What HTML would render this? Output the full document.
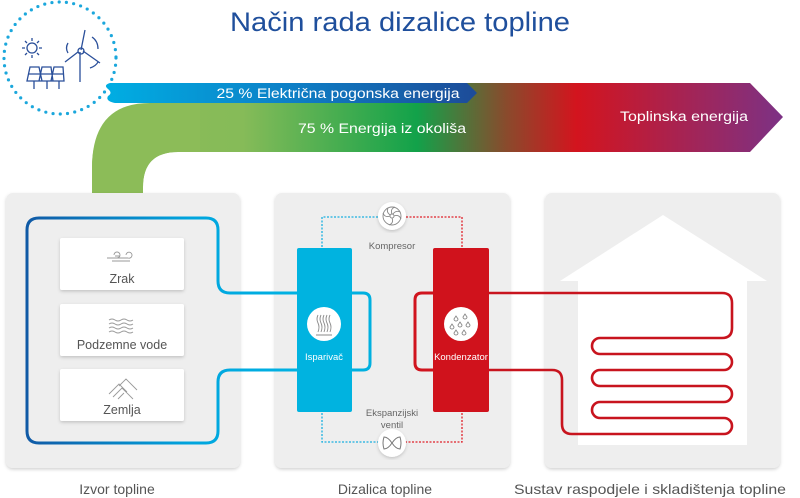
<!DOCTYPE html>
<html><head><meta charset="utf-8"><style>
html,body{margin:0;padding:0;background:#fff;width:800px;height:498px;overflow:hidden}
svg{display:block;font-family:"Liberation Sans",sans-serif}
</style></head><body>
<svg width="800" height="498" viewBox="0 0 800 498" xmlns="http://www.w3.org/2000/svg">
<defs>
<linearGradient id="big" x1="90" y1="0" x2="785" y2="0" gradientUnits="userSpaceOnUse">
<stop offset="0" stop-color="#8cbc58"/>
<stop offset="0.22" stop-color="#86bb58"/>
<stop offset="0.47" stop-color="#12a24a"/>
<stop offset="0.6" stop-color="#8a4a2c"/>
<stop offset="0.7" stop-color="#d3141e"/>
<stop offset="1" stop-color="#7b3286"/>
</linearGradient>
<linearGradient id="blu" x1="105" y1="0" x2="477" y2="0" gradientUnits="userSpaceOnUse">
<stop offset="0" stop-color="#00aee3"/>
<stop offset="0.5" stop-color="#0d7fc6"/>
<stop offset="1" stop-color="#1d4b98"/>
</linearGradient>
<linearGradient id="loop" x1="27" y1="0" x2="300" y2="0" gradientUnits="userSpaceOnUse">
<stop offset="0" stop-color="#105aa6"/>
<stop offset="0.6" stop-color="#00a5de"/>
<stop offset="1" stop-color="#00b2e3"/>
</linearGradient>
<filter id="sh" x="-10%" y="-10%" width="120%" height="120%"><feDropShadow dx="0" dy="1.5" stdDeviation="1.5" flood-color="#000" flood-opacity="0.18"/></filter>
</defs>

<text x="400" y="31" text-anchor="middle" font-size="26.5" fill="#1f4f9c" textLength="340" lengthAdjust="spacingAndGlyphs">Način rada dizalice topline</text>

<!-- dotted circle -->
<circle cx="60" cy="58" r="56" fill="none" stroke="#1ba7dc" stroke-width="3.2" stroke-linecap="round" stroke-dasharray="0 7.3"/>
<!-- sun -->
<g stroke="#2a4f9a" stroke-width="1.3" fill="none">
<circle cx="32" cy="48" r="5"/>
<path d="M32 38v3M32 55v3M22 48h3M39 48h3M25 41l2 2M37 53l2 2M25 55l2-2M37 43l2-2"/>
<path d="M30 67h9l3 14h-15zM42 67h9l2 14h-14zM54 67h9l1 14h-13z"/>
<path d="M29 74h34M34 81v8M47 81v8M59 81v8"/>
<path d="M80 82V52M81 50l4-20M78 52l-13 10M83 51l17 12"/>
<circle cx="81" cy="51" r="3"/>
<path d="M68 43q-3 5 0 10M92 37q6 4 6 12M90 68q6-2 8-6"/>
</g>

<!-- big gradient arrow -->
<path d="M143 195V187Q143 152 178 152H750L783 117L750 83H160Q150 83 150 103Q92 103 92 168V195Z" fill="url(#big)"/>
<path d="M92 195V168Q92 103 160 103H200V152H178Q143 152 143 187V195Z" fill="#8cbc58"/>
<!-- blue band -->
<path d="M110 83H467L477 93L467 103H115Q105 101 108 96Q113 93 108 89Q103 85 110 83Z" fill="url(#blu)"/>
<text x="338" y="98" text-anchor="middle" font-size="13.5" fill="#fff" textLength="243" lengthAdjust="spacingAndGlyphs">25 % Električna pogonska energija</text>
<text x="382" y="133" text-anchor="middle" font-size="13.5" fill="#fff" textLength="168" lengthAdjust="spacingAndGlyphs">75 % Energija iz okoliša</text>
<text x="684" y="121" text-anchor="middle" font-size="13.5" fill="#fff" textLength="128" lengthAdjust="spacingAndGlyphs">Toplinska energija</text>

<!-- panels -->
<rect x="6" y="193" width="234" height="275" rx="7" fill="#eeeeee" filter="url(#sh)"/>
<rect x="275" y="193" width="235" height="275" rx="7" fill="#eeeeee" filter="url(#sh)"/>
<rect x="545" y="193" width="235" height="275" rx="7" fill="#eeeeee" filter="url(#sh)"/>

<!-- left loop -->
<path d="M300 293H230Q218 293 218 281V230Q218 218 206 218H39Q27 218 27 230V431Q27 443 39 443H206Q218 443 218 431V382Q218 370 230 370H300" fill="none" stroke="url(#loop)" stroke-width="3"/>
<!-- cards -->
<g filter="url(#sh)" fill="#fff">
<rect x="60" y="238" width="124" height="52" rx="2"/>
<rect x="60" y="304" width="124" height="52" rx="2"/>
<rect x="60" y="369" width="124" height="52" rx="2"/>
</g>
<g stroke="#999" stroke-width="0.9" fill="none">
<path d="M107 258h10a3 3 0 1 0-3-3M112 261h18M116 258h12a3 3 0 1 0-2-3M115 256h5"/>
<path d="M109 320q3-2 6 0t6 0t6 0t6 0M109 324q3-2 6 0t6 0t6 0t6 0M109 328q3-2 6 0t6 0t6 0t6 0M109 332q3-2 6 0t6 0t6 0t6 0"/>
<path d="M109 394l10-10 8 8M113 397l9-9 11 11M119 386l7-7 11 11M118 399l6-6"/>
</g>
<g font-size="12.5" fill="#555" text-anchor="middle">
<text x="122" y="283">Zrak</text>
<text x="122" y="349">Podzemne vode</text>
<text x="122" y="414">Zemlja</text>
</g>

<!-- middle -->
<path d="M392 217H322V442H392" fill="none" stroke="#1ab0e0" stroke-width="1.3" stroke-dasharray="2 1.5"/>
<path d="M392 217H462V442H392" fill="none" stroke="#e0202a" stroke-width="1.3" stroke-dasharray="2 1.5"/>
<path d="M352 293H363Q370 293 370 300V363Q370 370 363 370H352" fill="none" stroke="#00b0e0" stroke-width="3"/>
<path d="M433 293H422Q415 293 415 300V363Q415 370 422 370H433" fill="none" stroke="#d0141e" stroke-width="3"/>
<rect x="297" y="248" width="55" height="164" rx="2" fill="#00b3e0"/>
<rect x="433" y="248" width="56" height="164" rx="2" fill="#d0121c"/>
<circle cx="324" cy="324" r="17" fill="#fff"/>
<g stroke="#888" stroke-width="0.9" fill="none">
<path d="M318 315q-2 4 0 8t0 9M321 315q-2 4 0 8t0 9M324 315q-2 4 0 8t0 9M327 315q-2 4 0 8t0 9M330 315q-2 4 0 8t0 9M316 335h16"/>
</g>
<circle cx="461" cy="324" r="17" fill="#fff"/>
<g stroke="#888" stroke-width="0.9" fill="none">
<path d="M456 316l-2 3a2 2 0 1 0 4 0zM465 314l-2 3a2 2 0 1 0 4 0zM452 324l-2 3a2 2 0 1 0 4 0zM460 322l-2 3a2 2 0 1 0 4 0zM468 322l-2 3a2 2 0 1 0 4 0zM456 330l-2 3a2 2 0 1 0 4 0zM464 330l-2 3a2 2 0 1 0 4 0z"/>
</g>
<g font-size="9.5" fill="#fff" text-anchor="middle">
<text x="324" y="360">Isparivač</text>
<text x="461" y="360">Kondenzator</text>
</g>
<circle cx="392" cy="216" r="14" fill="#fff" filter="url(#sh)"/>
<g stroke="#888" stroke-width="0.9" fill="none">
<circle cx="392" cy="216" r="9"/><circle cx="392" cy="216" r="2"/>
<path d="M392 214q-2-5 3-7M394 216q5-2 7 3M392 218q2 5-3 7M390 216q-5 2-7-3M393 214q3-4 7-2M390 215q-4-3-2-7"/>
</g>
<circle cx="392" cy="443" r="14" fill="#fff" filter="url(#sh)"/>
<path d="M384 437q4 0 8 6q4 6 8 6q2-6 0-12q-4 0-8 6q-4 6-8 6q-2-6 0-12z" fill="none" stroke="#777" stroke-width="1"/>
<g font-size="9.5" fill="#666" text-anchor="middle">
<text x="392" y="249">Kompresor</text>
<text x="392" y="416">Ekspanzijski</text>
<text x="392" y="428">ventil</text>
</g>

<!-- house -->
<path d="M663 215L767 281H747V445H578V281H560Z" fill="#fff"/>
<path d="M489 293H722Q732 293 732 303V328Q732 338 722 338H600A8 8 0 0 0 600 354H724A8 8 0 0 1 724 370H600A8 8 0 0 0 600 386H724A8 8 0 0 1 724 402H600A8 8 0 0 0 600 418H724A8 8 0 0 1 724 434H572Q562 434 562 424V380Q562 370 552 370H489" fill="none" stroke="#c8141e" stroke-width="2.6"/>

<g font-size="14" fill="#555" text-anchor="middle">
<text x="117" y="494">Izvor topline</text>
<text x="385" y="494">Dizalica topline</text>
<text x="650" y="494" textLength="272" lengthAdjust="spacingAndGlyphs">Sustav raspodjele i skladištenja topline</text>
</g>
</svg>
</body></html>
